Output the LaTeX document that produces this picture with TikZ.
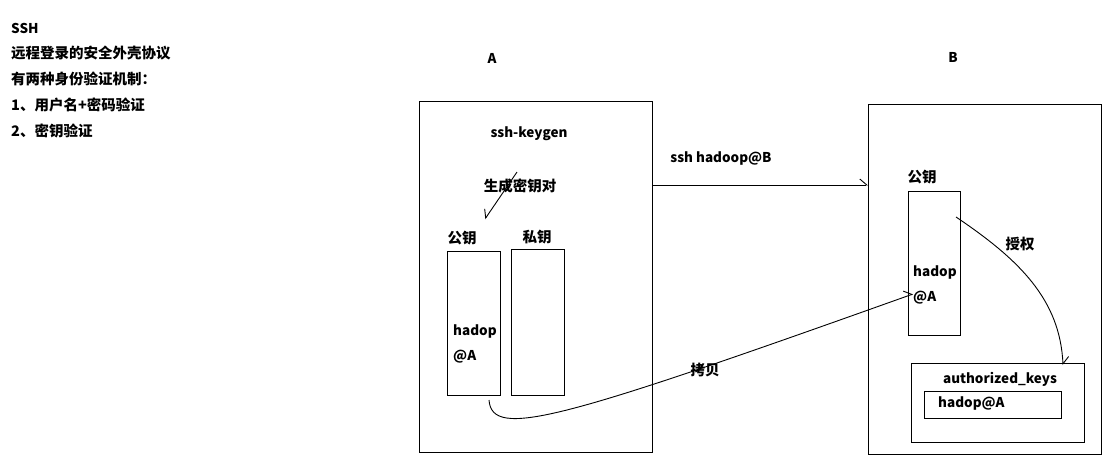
\documentclass[tikz,border=0pt]{standalone}
\usepackage{fontspec}
\setmainfont{Noto Sans CJK SC}
\usetikzlibrary{arrows.meta}
\tikzset{
  box/.style={draw, line width=1pt, minimum width=0pt, minimum height=0pt, inner sep=0pt},
  txt/.style={font=\fontsize{13.5}{15}\selectfont\bfseries, inner sep=0pt},
  txtc/.style={font=\fontsize{14.5}{16}\selectfont\bfseries, inner sep=0pt},
  conn/.style={line width=0.9pt},
  barbL/.style={-{Straight Barb[left,length=7pt,width=12pt]}},
  barbR/.style={-{Straight Barb[right,length=7pt,width=12pt]}}
}
\begin{document}
\begin{tikzpicture}[x=1pt,y=-1pt]
\useasboundingbox (0,0) rectangle (1112,456);
% left notes
\node[txt,anchor=west] (t0) at (11,28) {SSH};
\node[txtc,anchor=west] (t1) at (11,53) {远程登录的安全外壳协议};
\node[txtc,anchor=west] (t2) at (11,79) {有两种身份验证机制：};
\node[txtc,anchor=west] (t3) at (11,105) {1、用户名+密码验证};
\node[txtc,anchor=west] (t4) at (11,131) {2、密钥验证};
% headers
\node[txt] (hA) at (492,58) {A};
\node[txt] (hB) at (953,57) {B};
% machine A
\draw[box] (419,101) rectangle (652,452);
\coordinate (Aeast) at (652,185);
\node[txt] (keygen) at (529,134) {ssh-keygen};
\node[txtc] (gen) at (520,186) {生成密钥对};
\node[txtc] (pubAl) at (462,238) {公钥};
\node[txtc] (priAl) at (537,237) {私钥};
\draw[box] (447,251) rectangle (500,395);
\draw[box] (511,249) rectangle (564,395);
\node[txt,anchor=west] (pubAt1) at (453,331) {hadop};
\node[txt,anchor=west] (pubAt2) at (453,357) {@A};
\coordinate (genS) at (517,172);
\coordinate (genT) at (485,219);
\draw[conn,barbR] (genS) -- (genT);
% machine B
\draw[box] (868,104) rectangle (1101,454);
\coordinate (Bwest) at (868,185);
\node[txtc] (pubBl) at (922,177) {公钥};
\draw[box] (908,191) rectangle (960,335);
\node[txt,anchor=west] (pubBt1) at (913,272) {hadop};
\node[txt,anchor=west] (pubBt2) at (913,298) {@A};
\draw[box] (911,363) rectangle (1084,442);
\node[txt] (ak) at (1000,379) {authorized\_keys};
\draw[box] (924,391) rectangle (1061,418);
\node[txt,anchor=west] (akv) at (938,403) {hadop@A};
% ssh connection
\draw[conn,barbL] (Aeast) -- (Bwest);
\node[txt] (sshl) at (721,158) {ssh hadoop@B};
% copy
\coordinate (cpS) at (489,400);
\coordinate (cpT) at (913,294);
\draw[conn,barbL] (cpS) .. controls (492,440) and (560,420) .. (cpT);
\node[txtc] (cpl) at (705,370) {拷贝};
% authorize
\coordinate (auS) at (956,217);
\coordinate (auT) at (1063,365);
\draw[conn,barbL] (auS) .. controls (1020,260) and (1060,300) .. (auT);
\node[txtc] (aul) at (1020,244) {授权};
\end{tikzpicture}
\end{document}
